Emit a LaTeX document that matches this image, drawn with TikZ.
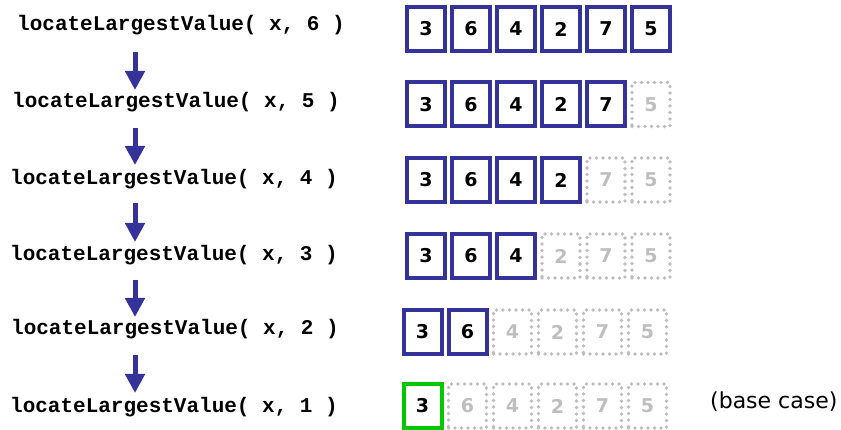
\documentclass[tikz,border=0pt]{standalone}
\usepackage{fontspec}
\setmonofont{Liberation Mono}
\setsansfont{DejaVu Sans}
\usetikzlibrary{arrows.meta}
\definecolor{callblue}{RGB}{51,51,153}
\definecolor{basegreen}{RGB}{0,200,0}
\definecolor{ghostgray}{RGB}{190,190,190}

\begin{document}
\begin{tikzpicture}[
    x=1pt, y=-1pt,
    call/.style={anchor=base west, inner sep=0pt, font=\fontsize{21}{21}\ttfamily\bfseries},
    cell/.style={minimum width=38pt, minimum height=44pt, inner sep=0pt, line width=4pt, font=\fontsize{19}{19}\sffamily\bfseries},
    live/.style={cell, draw=callblue},
    base/.style={cell, draw=basegreen},
    ghost/.style={cell, draw=ghostgray, text=ghostgray, line width=3.6pt, dash pattern=on 0pt off 6.5pt, line cap=round},
    down/.style={line width=5pt, color=callblue, -{Triangle[width=19pt,length=19pt]}}
]
    \useasboundingbox (0,0) rectangle (841,430);

    % recursive calls
    \node[call] (call1) at (17,31)  {locateLargestValue( x, 6 )};
    \node[call] (call2) at (12,108) {locateLargestValue( x, 5 )};
    \node[call] (call3) at (10,185) {locateLargestValue( x, 4 )};
    \node[call] (call4) at (10,261) {locateLargestValue( x, 3 )};
    \node[call] (call5) at (11,335) {locateLargestValue( x, 2 )};
    \node[call] (call6) at (10,412) {locateLargestValue( x, 1 )};

    % arrows between the calls
    \foreach \i/\top/\tip in {1/52/90, 2/128/165, 3/203/242, 4/280/317, 5/355/393} {
        \coordinate (from\i) at (135,\top);
        \coordinate (to\i) at (135,\tip);
        \draw[down] (from\i) -- (to\i);
    }

    % array cells, part still in use
    \foreach \r/\y/\x/\n in {1/29/426/6, 2/104.5/426/5, 3/180/426/4, 4/256/426/3, 5/332/422.5/2, 6/406/422.5/1} {
        \foreach \v [count=\c] in {3,6,4,2,7,5} {
            \ifnum\c>\n \def\sty{ghost}\else\ifnum\n=1 \def\sty{base}\else\def\sty{live}\fi\fi
            \node[\sty] (cell\r-\c) at ({\x+(\c-1)*45},\y) {\v};
        }
    }

    \node[anchor=west, inner sep=0pt, font=\fontsize{22}{22}\sffamily] (note) at (710,402) {(base case)};
\end{tikzpicture}
\end{document}
